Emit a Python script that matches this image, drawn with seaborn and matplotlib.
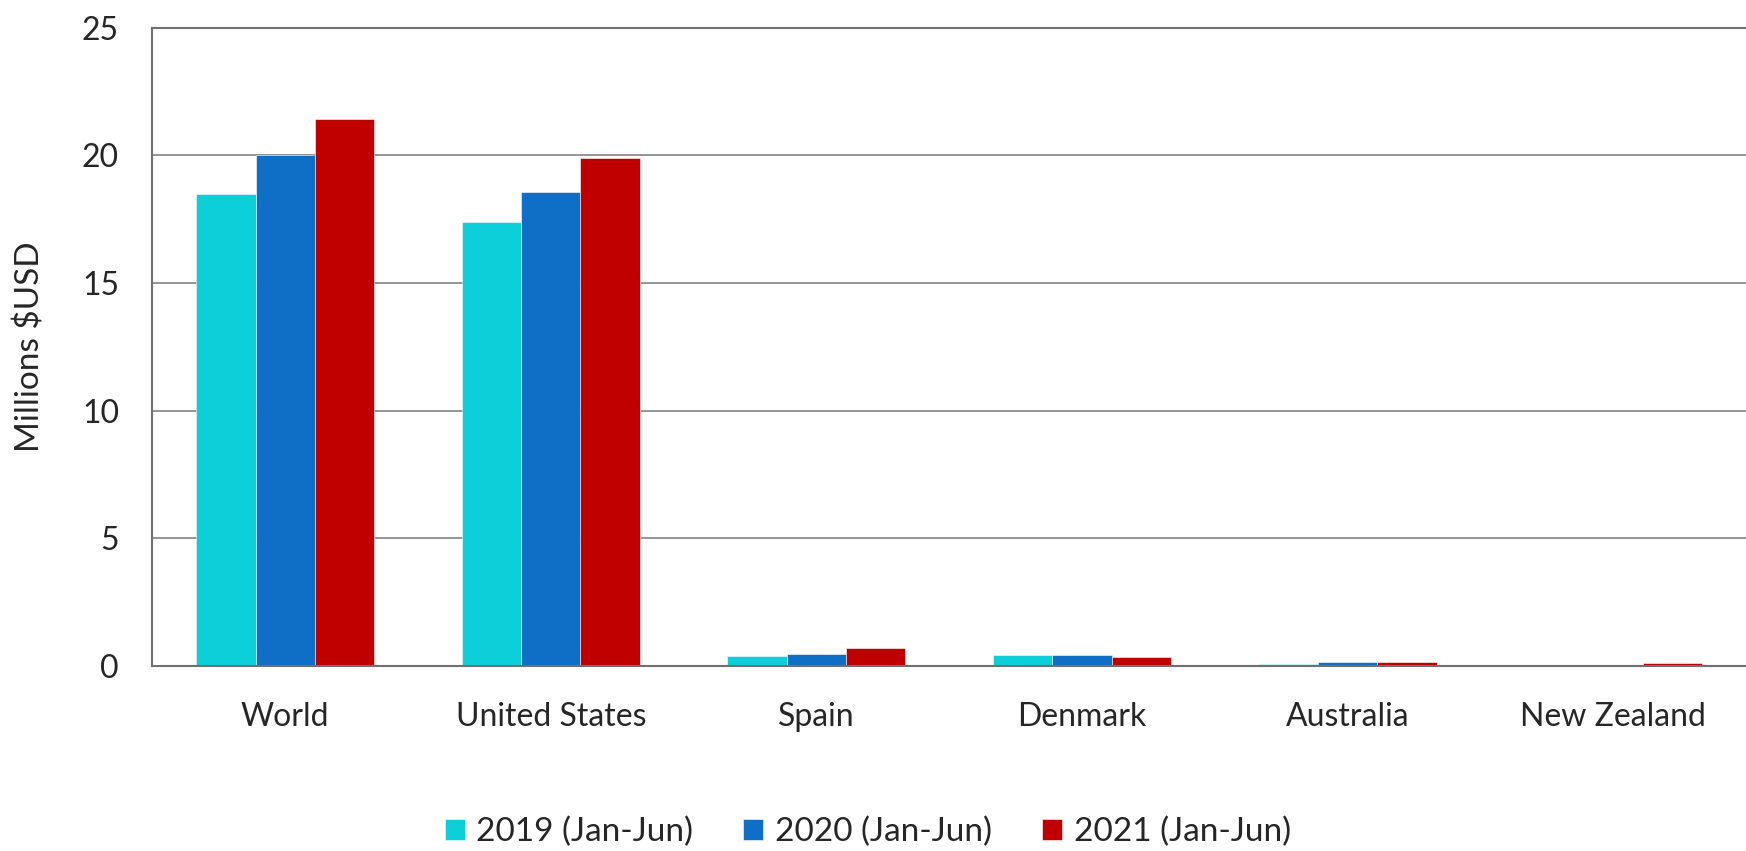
import pandas as pd
import matplotlib
matplotlib.use("Agg")
import matplotlib.pyplot as plt
import seaborn as sns

# Chart values (millions USD)
countries = ["World", "United States", "Spain", "Denmark", "Australia", "New Zealand"]
periods = ["2019 (Jan-Jun)", "2020 (Jan-Jun)", "2021 (Jan-Jun)"]
values_2019 = [18.5, 17.4, 0.38, 0.44, 0.07, 0.0]
values_2020 = [20.0, 18.55, 0.46, 0.44, 0.14, 0.0]
values_2021 = [21.42, 19.9, 0.72, 0.34, 0.14, 0.1]
colors = ["#0CCFD9", "#0F6FC6", "#C00000"]

# Long-form table for seaborn
rows = []
for period, vals in zip(periods, [values_2019, values_2020, values_2021]):
    for c, v in zip(countries, vals):
        rows.append({"Country": c, "Period": period, "Value": v})
df = pd.DataFrame(rows)

sns.set_style("white")
plt.rcParams["font.family"] = ["Lato", "DejaVu Sans"]

fig = plt.figure(figsize=(17.46, 8.51), dpi=100)
ax = fig.add_axes([0.0873, 0.2175, 0.9127, 0.7498])

sns.barplot(data=df, x="Country", y="Value", hue="Period", palette=colors,
            saturation=1, width=0.67, edgecolor="white", linewidth=0.4, ax=ax)

ax.set_ylim(0, 25)
ax.set_xlim(-0.5, 5.5)
ax.set_yticks([0, 5, 10, 15, 20, 25])
ax.yaxis.grid(True, color="#8c8c8c", linewidth=1.3)
ax.set_axisbelow(True)
ax.tick_params(axis="both", length=0, labelsize=23)
ax.tick_params(axis="y", pad=24)
ax.tick_params(axis="x", pad=26)
ax.set_xlabel("")
ax.set_ylabel("Millions $USD", fontsize=24, labelpad=26)

for side in ["left", "bottom", "top"]:
    ax.spines[side].set_color("#707070")
    ax.spines[side].set_linewidth(1.5)
ax.spines["right"].set_visible(False)

handles, labels = ax.get_legend_handles_labels()
ax.get_legend().remove()
fig.legend(handles, labels, loc="center", bbox_to_anchor=(0.497, 0.022), ncol=3,
           frameon=False, fontsize=24, handlelength=0.6, handleheight=0.6,
           handletextpad=0.35, columnspacing=1.5)

fig.savefig("out.png", dpi=100)
